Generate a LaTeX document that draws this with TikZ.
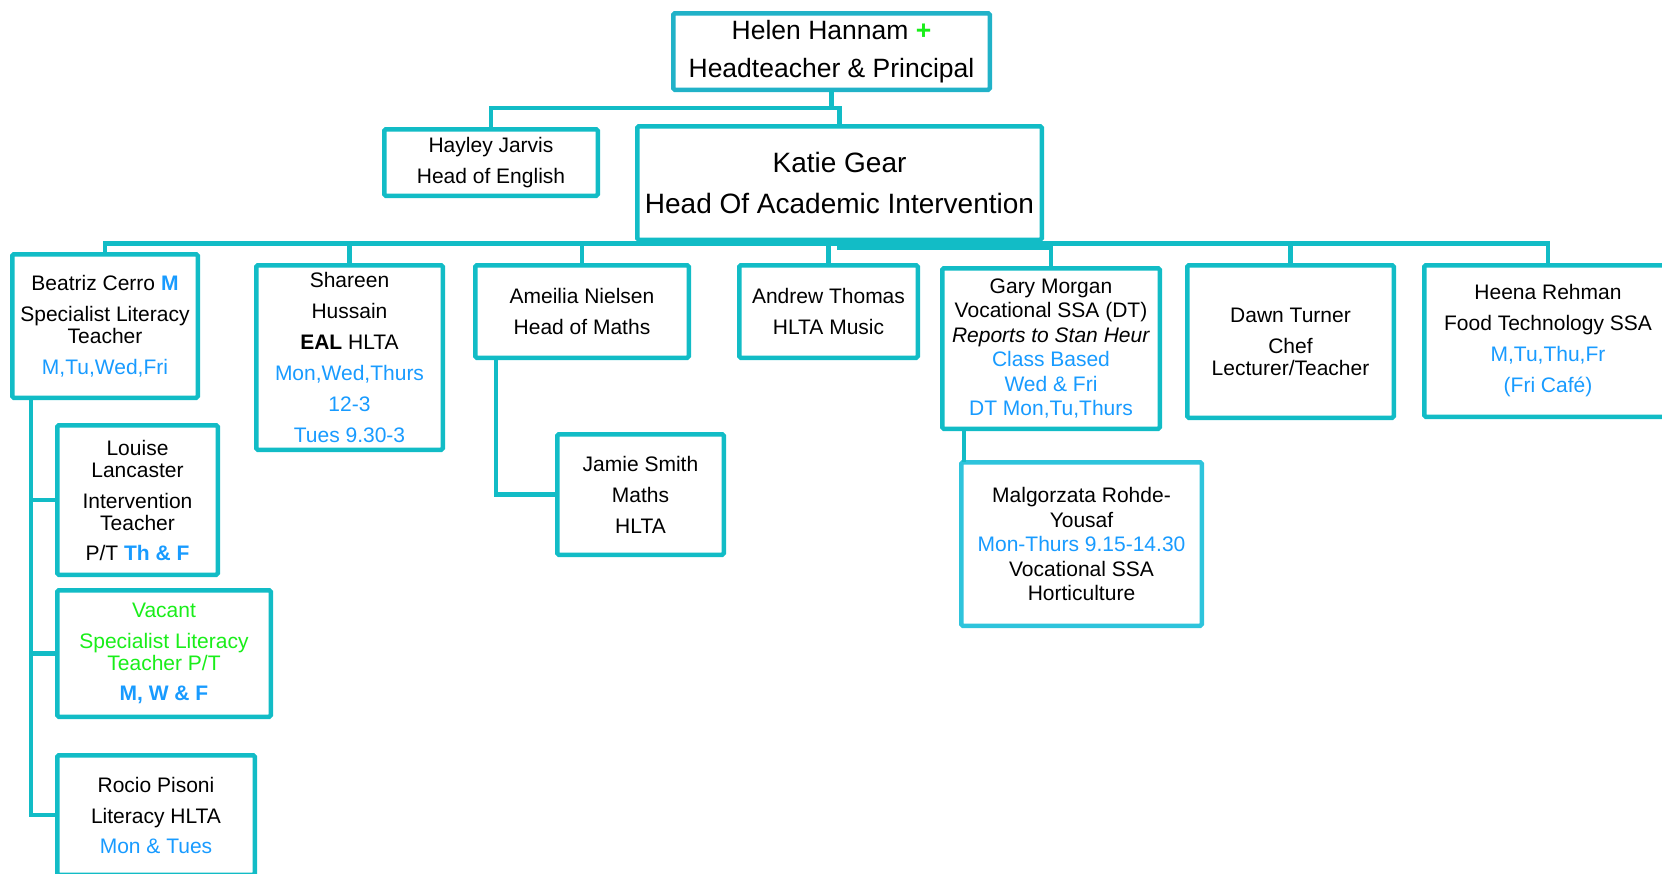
\documentclass[tikz,border=0pt]{standalone}
\usepackage{fontspec}
\setmainfont{Liberation Sans}
\definecolor{teal1}{RGB}{18,188,198}
\definecolor{tealh}{RGB}{33,178,200}
\definecolor{tealm}{RGB}{46,196,220}
\definecolor{bluet}{RGB}{24,155,255}
\definecolor{greent}{RGB}{25,238,25}
\newcommand{\bl}[1]{\textcolor{bluet}{#1}}
\newcommand{\gr}[1]{\textcolor{greent}{#1}}
\tikzset{
  orgbox/.style={draw=teal1, line width=4.5pt, fill=white, inner sep=0pt, outer sep=0pt,
    align=center, text=black, rounded corners=1.5pt, font=\fontsize{21}{22}\selectfont},
  conn/.style={draw=teal1, line width=4.5pt},
}
\begin{document}
\begin{tikzpicture}[x=1pt,y=-1pt]
\useasboundingbox (0,0) rectangle (1662,873);
% boxes
\node[orgbox, draw=tealh, minimum width=316.5pt, minimum height=76.5pt, font=\fontsize{26.5}{38}\selectfont] (helen) at (831.5,51.5) {Helen Hannam \gr{\textbf{+}}\\Headteacher \& Principal};
\node[orgbox, minimum width=213.5pt, minimum height=66.5pt] (hayley) at (491,162.5) {Hayley Jarvis\\[9pt]Head of English};
\node[orgbox, minimum width=404.5pt, minimum height=113.5pt, font=\fontsize{28}{41}\selectfont] (katie) at (839.5,183) {Katie Gear\\Head Of Academic Intervention};
\node[orgbox, minimum width=185.5pt, minimum height=143.5pt] (beatriz) at (105,326) {Beatriz Cerro \bl{\textbf{M}}\\[9pt]Specialist Literacy\\Teacher\\[9pt]\bl{M,Tu,Wed,Fri}};
\node[orgbox, minimum width=186.5pt, minimum height=184.5pt] (shareen) at (349.5,357.5) {Shareen\\[9pt]Hussain\\[9pt]\textbf{EAL} HLTA\\[9pt]\bl{Mon,Wed,Thurs}\\[9pt]\bl{12-3}\\[9pt]\bl{Tues 9.30-3}};
\node[orgbox, minimum width=213.5pt, minimum height=92.5pt] (ameilia) at (582,311.5) {Ameilia Nielsen\\[9pt]Head of Maths};
\node[orgbox, minimum width=178.5pt, minimum height=92.5pt] (andrew) at (828.5,311.5) {Andrew Thomas\\[9pt]HLTA Music};
\node[orgbox, minimum width=217.5pt, minimum height=160.5pt] (gary) at (1051,348.5) {Gary Morgan\\[2.5pt]Vocational SSA (DT)\\[2.5pt]\textit{Reports to Stan Heur}\\[2.5pt]\bl{Class Based}\\[2.5pt]\bl{Wed \& Fri}\\[2.5pt]\bl{DT Mon,Tu,Thurs}};
\node[orgbox, minimum width=206.5pt, minimum height=152.5pt] (dawn) at (1290.5,341.5) {Dawn Turner\\[9pt]Chef\\Lecturer/Teacher};
\node[orgbox, minimum width=247.5pt, minimum height=151.5pt] (heena) at (1548,341) {Heena Rehman\\[9pt]Food Technology SSA\\[9pt]\bl{M,Tu,Thu,Fr}\\[9pt]\bl{(Fri Café)}};
\node[orgbox, minimum width=160.5pt, minimum height=149.5pt] (louise) at (137.5,500) {Louise\\Lancaster\\[9pt]Intervention\\Teacher\\[8pt]P/T \bl{\textbf{Th \& F}}};
\node[orgbox, minimum width=213.5pt, minimum height=126.5pt] (vacant) at (164,653.5) {\gr{Vacant}\\[9pt]\gr{Specialist Literacy}\\\gr{Teacher P/T}\\[8pt]\bl{\textbf{M, W \& F}}};
\node[orgbox, minimum width=197.5pt, minimum height=119.5pt] (rocio) at (156,815) {Rocio Pisoni\\[9pt]Literacy HLTA\\[8pt]\bl{Mon \& Tues}};
\node[orgbox, minimum width=166.5pt, minimum height=120.5pt] (jamie) at (640.5,494.5) {Jamie Smith\\[9pt]Maths\\[9pt]HLTA};
\node[orgbox, draw=tealm, minimum width=240.5pt, minimum height=163.5pt] (malg) at (1081.5,544) {Malgorzata Rohde-\\[2.5pt]Yousaf\\[2.5pt]\bl{Mon-Thurs 9.15-14.30}\\[2.5pt]Vocational SSA\\[2.5pt]Horticulture};
% helper coordinates
\coordinate (hb) at (831.5,108);
\coordinate (bus) at (839.5,243.5);
\coordinate (spine) at (31,0);
\coordinate (aj) at (496,0);
\coordinate (gm) at (964,0);
% connectors
\draw[conn] (helen.south) -- (hb) -| (hayley.north);
\draw[conn] (hb) -- (hb -| katie.north) -- (katie.north);
\draw[conn] (beatriz.north) |- (bus) -| (heena.north);
\draw[conn] (katie.south) -- (bus);
\draw[conn] (shareen.north) -- (shareen.north |- bus);
\draw[conn] (ameilia.north) -- (ameilia.north |- bus);
\draw[conn] (andrew.north) -- (andrew.north |- bus);
\draw[conn] (dawn.north) -- (dawn.north |- bus);
\draw[conn] (katie.south) -- ++(0,8) -| (gary.north);
\draw[conn] (spine |- beatriz.south) |- (rocio.west);
\draw[conn] (spine |- louise.west) -- (louise.west);
\draw[conn] (spine |- vacant.west) -- (vacant.west);
\draw[conn] (aj |- ameilia.south) |- (jamie.west);
\draw[conn] (gm |- gary.south) -- (gm |- malg.north);
\end{tikzpicture}
\end{document}
